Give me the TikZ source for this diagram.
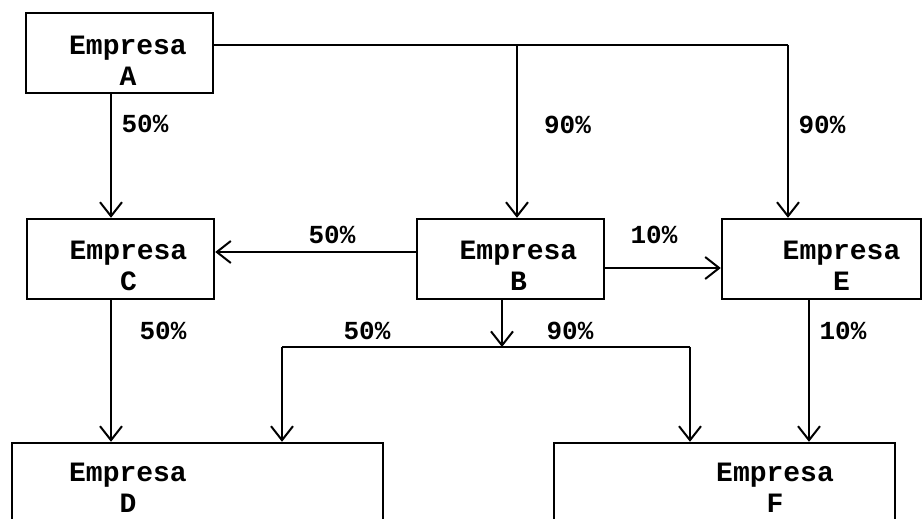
\documentclass[tikz,border=0pt]{standalone}
\usepackage{fontspec}
\newfontfamily\schreibmaschine{Liberation Mono}
\usetikzlibrary{arrows.meta}

\tikzset{
	firma/.style={draw, line width=2.4pt, inner sep=0pt},
	firmentext/.style={font=\schreibmaschine\bfseries\fontsize{28pt}{31pt}\selectfont, align=center, inner sep=0pt},
	linie/.style={line width=2pt},
	beteiligung/.style={line width=2pt, -{Straight Barb[length=14pt,width=22pt,line width=2pt]}},
	anteil/.style={font=\schreibmaschine\bfseries\fontsize{26pt}{30pt}\selectfont, inner sep=0pt}
}

\begin{document}
\begin{tikzpicture}[x=1pt,y=1pt]
	\useasboundingbox (0,0) rectangle (923,519);
	\clip (0,0) rectangle (923,519);
	
	% Unternehmen
	\node[firma, minimum width=187pt, minimum height=80pt, label={[firmentext, xshift=8.5pt, yshift=-8pt]center:{Empresa\\A}}] (A) at (119.5,466) {};
	\node[firma, minimum width=187pt, minimum height=80pt, label={[firmentext, xshift=8pt, yshift=-7pt]center:{Empresa\\C}}] (C) at (120.5,260) {};
	\node[firma, minimum width=187pt, minimum height=80pt, label={[firmentext, xshift=8pt, yshift=-7pt]center:{Empresa\\B}}] (B) at (510.5,260) {};
	\node[firma, minimum width=199pt, minimum height=80pt, label={[firmentext, xshift=20pt, yshift=-7pt]center:{Empresa\\E}}] (E) at (821.5,260) {};
	\node[firma, minimum width=371pt, minimum height=97pt, label={[firmentext, xshift=-69.5pt, yshift=4pt]center:{Empresa\\D}}] (D) at (197.5,27.5) {};
	\node[firma, minimum width=341pt, minimum height=97pt, label={[firmentext, xshift=50.5pt, yshift=4pt]center:{Empresa\\F}}] (F) at (724.5,27.5) {};
	
	% Knickpunkte
	\coordinate (abzweigB) at (517,474);
	\coordinate (eckeE) at (788,474);
	\coordinate (verteilerB) at (502,172);
	\coordinate (eckeD) at (282,172);
	\coordinate (eckeF) at (690,172);
	
	% Beteiligungen
	\draw[linie] ([yshift=8pt]A.east) -- (eckeE);
	\draw[beteiligung] (eckeE) -- (eckeE |- E.north);
	\draw[beteiligung] (abzweigB) -- (abzweigB |- B.north);
	\draw[beteiligung] ([xshift=-8.5pt]A.south) -- ([xshift=-8.5pt]A.south |- C.north);
	\draw[beteiligung] ([yshift=7pt]B.west) -- ([yshift=7pt]B.west -| C.east);
	\draw[beteiligung] ([yshift=-9pt]B.east) -- ([yshift=-9pt]B.east -| E.west);
	\draw[beteiligung] ([xshift=-8.5pt]B.south) -- (verteilerB);
	\draw[linie] (eckeD) -- (eckeF);
	\draw[beteiligung] (eckeD) -- (eckeD |- D.north);
	\draw[beteiligung] (eckeF) -- (eckeF |- F.north);
	\draw[beteiligung] ([xshift=-9.5pt]C.south) -- ([xshift=-9.5pt]C.south |- D.north);
	\draw[beteiligung] ([xshift=-12.5pt]E.south) -- ([xshift=-12.5pt]E.south |- F.north);
	
	% Anteile
	\node[anteil] (anteilAC) at (145,395) {50\%};
	\node[anteil] (anteilAB) at (567.5,394) {90\%};
	\node[anteil] (anteilAE) at (822,394) {90\%};
	\node[anteil] (anteilBC) at (332,284) {50\%};
	\node[anteil] (anteilBE) at (654,284) {10\%};
	\node[anteil] (anteilCD) at (163,188) {50\%};
	\node[anteil] (anteilBD) at (367,188) {50\%};
	\node[anteil] (anteilBF) at (570,188) {90\%};
	\node[anteil] (anteilEF) at (843,188) {10\%};
\end{tikzpicture}
\end{document}
